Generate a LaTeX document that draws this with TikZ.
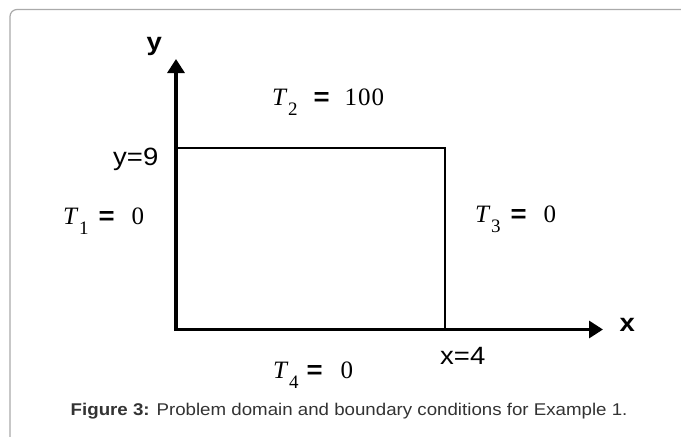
\documentclass[tikz,border=0pt]{standalone}
\usepackage{fontspec}
\setmainfont{Liberation Serif}[ItalicFont={Liberation Serif Italic}]
\setsansfont{Liberation Sans}[FakeStretch=1.1]
\usetikzlibrary{arrows.meta}
\definecolor{framegray}{HTML}{AAAAAA}
\definecolor{capgray}{HTML}{333333}
\newcommand{\Tlab}[4]{\fontsize{25}{25}\selectfont\textit{T}\kern0.5pt\raisebox{-10pt}{\fontsize{19}{19}\selectfont #1}\kern#2pt{\sffamily\bfseries =}\kern#3pt#4}
\tikzset{
  axisline/.style={line width=3.2pt, -{Triangle[length=14pt,width=17pt]}},
  domainedge/.style={line width=2pt, line cap=rect},
  axlab/.style={inner sep=0pt, anchor=base west, font=\sffamily\bfseries\fontsize{25}{25}\selectfont},
  ticklab/.style={inner sep=0pt, anchor=base west, font=\sffamily\fontsize{25}{25}\selectfont},
  bclab/.style={inner sep=0pt, anchor=base west},
  captext/.style={inner sep=0pt, anchor=base west, text=capgray, font=\sffamily\fontsize{17}{17}\selectfont}
}
\begin{document}
\begin{tikzpicture}[x=1pt,y=-1pt]
\useasboundingbox (0,0) rectangle (681,437);
\clip (0,0) rectangle (681,437);
\fill[white] (0,0) rectangle (681,437);
% frame
\draw[framegray, line width=1.2pt, rounded corners=7pt] (10,450) -- (10,9.5) -- (700,9.5);
% coordinates
\coordinate (O) at (174,329.5);
\coordinate (Ytip) at (176,59);
\coordinate (Ybase) at (176,331);
\coordinate (Xtip) at (603,329.5);
\coordinate (TL) at (176,148);
\coordinate (TR) at (445,148);
\coordinate (BR) at (445,329.5);
% domain edges
\draw[domainedge] (TL) -- (TR) -- (BR);
% axes
\draw[axisline] (Ybase) -- (Ytip);
\draw[axisline] (O) -- (Xtip);
% labels
\node[axlab] (ylab) at (146.5,50) {y};
\node[axlab] (xlab) at (619.5,331) {x};
\node[ticklab] (y9) at (113,165) {y=9};
\node[ticklab] (x4) at (440,364) {x=4};
\node[bclab] (T1) at (63,224) {\Tlab{1}{10}{17}{0}};
\node[bclab] (T2) at (272,105) {\Tlab{2}{16}{15}{1\kern1pt0\kern1pt0}};
\node[bclab] (T3) at (475,222) {\Tlab{3}{10}{17}{0}};
\node[bclab] (T4) at (273,378) {\Tlab{4}{8}{18}{0}};
\node[captext] (caption) at (70.5,415) {\textbf{Figure 3:} Problem domain and boundary conditions for Example 1.};
\end{tikzpicture}
\end{document}
